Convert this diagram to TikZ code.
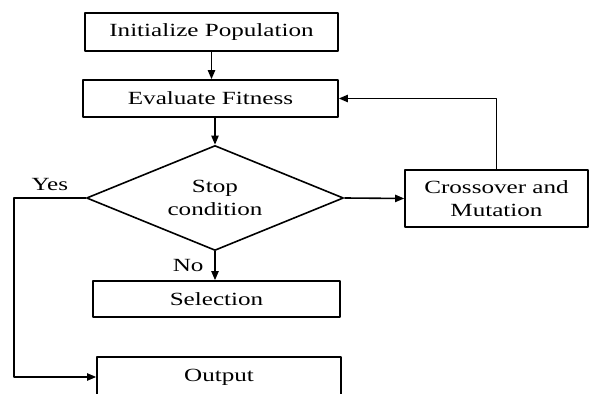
\documentclass[tikz,border=0pt]{standalone}
\usepackage{fontspec}
\setmainfont{Liberation Serif}[FakeStretch=1.35]
\usetikzlibrary{shapes.geometric,arrows.meta}

\begin{document}
\begin{tikzpicture}[x=0.5pt,y=-0.5pt,line join=round,line width=.8pt,
  font=\fontsize{9.3}{11.5}\selectfont,
  procbox/.style={draw,rectangle,inner sep=0pt,align=center},
  decbox/.style={draw,diamond,aspect=2.45,inner sep=0pt,align=center},
  arr/.style={-{Triangle[length=4.5pt,width=3.6pt]}}]
  \useasboundingbox (0,0) rectangle (589,394);
  \node[procbox,minimum width=126.5pt,minimum height=19pt] (init) at (211.5,32) {Initialize Population};
  \node[procbox,minimum width=127.5pt,minimum height=18.5pt] (eval) at (210.5,98.5) {Evaluate Fitness};
  \node[decbox,minimum width=128.5pt,minimum height=52.5pt] (cond) at (215,198) {Stop\\condition};
  \node[procbox,minimum width=91.5pt,minimum height=28.5pt] (cross) at (496.5,198.5) {Crossover and\\Mutation};
  \node[procbox,minimum width=123.5pt,minimum height=18pt] (sel) at (216.5,299) {Selection};
  \node[procbox,minimum width=122pt,minimum height=20pt] (out) at (219,377) {Output};
  \coordinate (yesturn) at (14,198);
  \draw[arr] (init.south) -- (init.south |- eval.north);
  \draw[arr] (cond.north |- eval.south) -- (cond.north);
  \draw[arr] (cond.east) -- (cross.west);
  \draw[arr] (cross.north) |- (eval.east);
  \draw[arr] (cond.south) -- node[left,xshift=-2pt]{No} (cond.south |- sel.north);
  \draw[arr] (cond.west) -- node[above]{Yes} (yesturn) |- (out.west);
\end{tikzpicture}
\end{document}
